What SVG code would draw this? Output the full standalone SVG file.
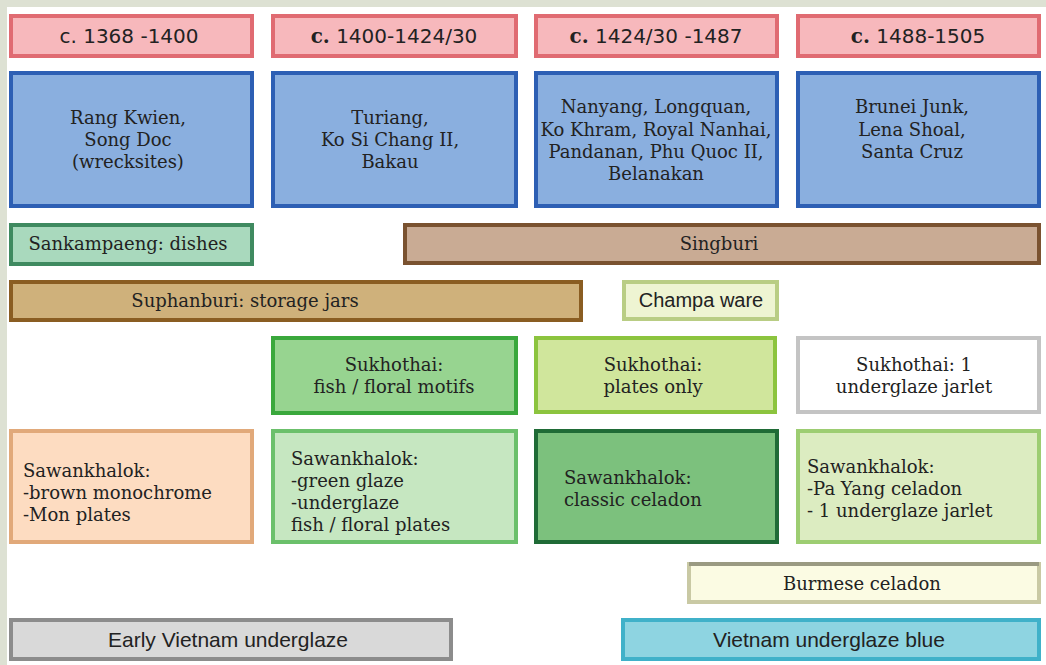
<svg xmlns="http://www.w3.org/2000/svg" width="1046" height="665" viewBox="0 0 1046 665">
<style>
.b{stroke-width:4}
.s{font-family:"DejaVu Serif","Liberation Serif",serif;font-size:18px;fill:#222}
.ss{font-family:"Liberation Sans",Arial,sans-serif;font-size:20px;fill:#222}
.sn{font-family:"Liberation Sans",Arial,sans-serif;font-size:21px;fill:#222}
.d{font-family:"DejaVu Sans","Liberation Sans",sans-serif;font-size:20px;fill:#222}
.m{text-anchor:middle}
.date{fill:#f7b8bc;stroke:#e06b72}
.blue{fill:#8aafdf;stroke:#2d5fb4}
</style>
<rect x="0" y="0" width="1046" height="665" fill="#ffffff"/>
<rect x="0" y="0" width="1046" height="7" fill="#dde1d3"/>
<rect x="0" y="0" width="7" height="665" fill="#dde1d3"/>

<g id="date1"><rect class="b date" x="11" y="16" width="241" height="40"/><text class="d m" x="129" y="43">c. 1368 -1400</text></g>
<g id="date2"><rect class="b date" x="273" y="16" width="243" height="40"/><text class="d m" x="394" y="43"><tspan font-family="DejaVu Serif" font-weight="bold">c.</tspan> 1400-1424/30</text></g>
<g id="date3"><rect class="b date" x="536" y="16" width="241" height="40"/><text class="d m" x="656" y="43"><tspan font-family="DejaVu Serif" font-weight="bold">c.</tspan>  1424/30 -1487</text></g>
<g id="date4"><rect class="b date" x="798" y="16" width="241" height="40"/><text class="d m" x="918" y="43"><tspan font-family="DejaVu Serif" font-weight="bold">c.</tspan> 1488-1505</text></g>

<g id="sites1"><rect class="b blue" x="11" y="73" width="241" height="133"/><text class="s m" x="128"><tspan x="128" y="124">Rang Kwien,</tspan><tspan x="128" y="146">Song Doc</tspan><tspan x="128" y="168">(wrecksites)</tspan></text></g>
<g id="sites2"><rect class="b blue" x="273" y="73" width="243" height="133"/><text class="s m" x="390"><tspan x="390" y="124">Turiang,</tspan><tspan x="390" y="146">Ko Si Chang II,</tspan><tspan x="390" y="168">Bakau</tspan></text></g>
<g id="sites3"><rect class="b blue" x="536" y="73" width="241" height="133"/><text class="s m" x="656"><tspan x="656" y="113">Nanyang, Longquan,</tspan><tspan x="656" y="136">Ko Khram, Royal Nanhai,</tspan><tspan x="656" y="158">Pandanan, Phu Quoc II,</tspan><tspan x="656" y="180">Belanakan</tspan></text></g>
<g id="sites4"><rect class="b blue" x="798" y="73" width="241" height="133"/><text class="s m" x="912"><tspan x="912" y="113">Brunei Junk,</tspan><tspan x="912" y="136">Lena Shoal,</tspan><tspan x="912" y="158">Santa Cruz</tspan></text></g>

<g id="sankampaeng"><rect class="b" fill="#a9d9bd" stroke="#3f8a60" x="11" y="225" width="241" height="39"/><text class="s m" x="128" y="250">Sankampaeng: dishes</text></g>
<g id="singburi"><rect class="b" fill="#c9ab94" stroke="#7a5230" x="405" y="225" width="634" height="38"/><text class="s m" x="719" y="250">Singburi</text></g>
<g id="suphanburi"><rect class="b" fill="#cfb17b" stroke="#8a5d22" x="11" y="282" width="570" height="38"/><text class="s m" x="245" y="307">Suphanburi: storage jars</text></g>
<g id="champa"><rect class="b" fill="#eef4d2" stroke="#b9cd84" x="624" y="282" width="153" height="37"/><text class="ss m" x="701" y="307">Champa ware</text></g>

<g id="sukhothai1"><rect class="b" fill="#97d490" stroke="#3aa83c" x="273" y="338" width="243" height="75"/><text class="s m" x="394"><tspan x="394" y="371">Sukhothai:</tspan><tspan x="394" y="393">fish / floral motifs</tspan></text></g>
<g id="sukhothai2"><rect class="b" fill="#d0e69c" stroke="#8cc43e" x="536" y="338" width="239" height="74"/><text class="s m" x="653"><tspan x="653" y="371">Sukhothai:</tspan><tspan x="653" y="393">plates only</tspan></text></g>
<g id="sukhothai3"><rect class="b" fill="#ffffff" stroke="#c4c4c4" x="798" y="338" width="241" height="74"/><text class="s m" x="914"><tspan x="914" y="371">Sukhothai: 1</tspan><tspan x="914" y="393">underglaze jarlet</tspan></text></g>

<g id="sawan1"><rect class="b" fill="#fddcc1" stroke="#e1a97a" x="11" y="431" width="241" height="111"/><text class="s"><tspan x="23" y="477">Sawankhalok:</tspan><tspan x="23" y="499">-brown monochrome</tspan><tspan x="23" y="521">-Mon plates</tspan></text></g>
<g id="sawan2"><rect class="b" fill="#c6e7c1" stroke="#6bc06b" x="273" y="431" width="243" height="111"/><text class="s"><tspan x="291" y="465">Sawankhalok:</tspan><tspan x="291" y="487">-green glaze</tspan><tspan x="291" y="509">-underglaze</tspan><tspan x="291" y="531">fish / floral plates</tspan></text></g>
<g id="sawan3"><rect class="b" fill="#7cc17d" stroke="#1f6b36" x="536" y="431" width="241" height="111"/><text class="s"><tspan x="564" y="484">Sawankhalok:</tspan><tspan x="564" y="506">classic celadon</tspan></text></g>
<g id="sawan4"><rect class="b" fill="#dcecc1" stroke="#9dcd72" x="798" y="431" width="241" height="111"/><text class="s"><tspan x="807" y="473">Sawankhalok:</tspan><tspan x="807" y="495">-Pa Yang celadon</tspan><tspan x="807" y="517">- 1 underglaze jarlet</tspan></text></g>

<g id="burmese"><rect class="b" fill="#fbfbe3" stroke="#c9c9a4" x="689" y="564" width="350" height="38"/><line x1="689" y1="564" x2="1039" y2="564" stroke="#9a9a82" stroke-width="4"/><text class="s m" x="862" y="590">Burmese celadon</text></g>
<g id="earlyvietnam"><rect class="b" fill="#d9d9d9" stroke="#8c8c8c" x="11" y="620" width="440" height="39"/><text class="sn m" x="228" y="647">Early Vietnam underglaze</text></g>
<g id="vietnamblue"><rect class="b" fill="#8ed4e1" stroke="#40b1c9" x="623" y="620" width="416" height="39"/><text class="sn m" x="829" y="647">Vietnam underglaze blue</text></g>

<g id="connectors"></g>
</svg>
